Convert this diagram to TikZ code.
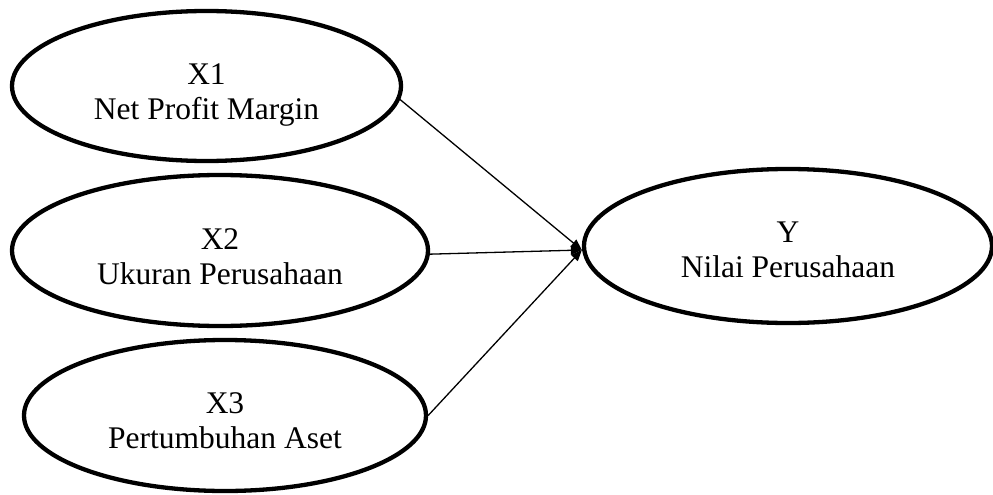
\documentclass[tikz,border=0pt]{standalone}
\usepackage{fontspec}
\setmainfont{Liberation Serif}
\usetikzlibrary{shapes.geometric,arrows.meta}
\begin{document}
\begin{tikzpicture}[x=1pt,y=-1pt,
  construct/.style={ellipse, draw, line width=4.3pt, inner sep=0pt},
  caption/.style={align=center, inner sep=0pt, font=\fontsize{31.5}{35}\selectfont},
  path/.style={line width=1.3pt, -{Triangle[length=11pt,width=9pt]}}]
  \useasboundingbox (0,0) rectangle (993,495);
  % latent constructs
  \node[construct, minimum width=389pt, minimum height=150pt] (X1) at (206.5,86) {};
  \node[construct, minimum width=416pt, minimum height=151pt] (X2) at (220,250.5) {};
  \node[construct, minimum width=402pt, minimum height=151pt] (X3) at (225,415.5) {};
  \node[construct, minimum width=408pt, minimum height=154pt] (Y) at (788,246) {};
  % their names
  \node[caption] (X1t) at ([yshift=-9pt]X1.center) {X1\\Net Profit Margin};
  \node[caption] (X2t) at ([yshift=-6pt]X2.center) {X2\\Ukuran Perusahaan};
  \node[caption] (X3t) at ([yshift=-5pt]X3.center) {X3\\Pertumbuhan Aset};
  \node[caption] (Yt) at ([yshift=-4pt]Y.center) {Y\\Nilai Perusahaan};
  % paths into Y
  \coordinate (hub) at ([yshift=-4pt]Y.west);
  \draw[path] (X1.-4) -- (hub);
  \draw[path] (X2.-1) -- (hub);
  \draw[path] (X3.east) -- (hub);
\end{tikzpicture}
\end{document}
